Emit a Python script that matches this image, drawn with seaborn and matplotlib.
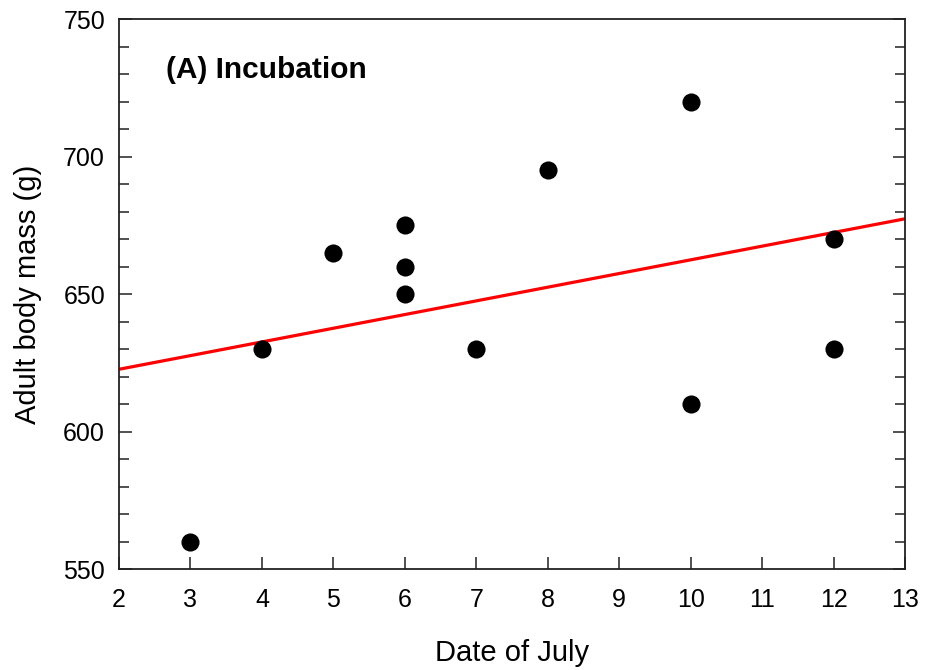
import numpy as np
import pandas as pd
import seaborn as sns
import matplotlib.pyplot as plt
from matplotlib.ticker import MultipleLocator

# Incubation-period body mass by date
date_of_july = [3, 4, 5, 6, 6, 6, 7, 8, 10, 10, 12, 12]
body_mass = [560, 630, 665, 675, 660, 650, 630, 695, 720, 610, 670, 630]

x_ticks = list(range(2, 14))
y_ticks = [550, 600, 650, 700, 750]

df = pd.DataFrame({"date": date_of_july, "mass": body_mass})

sns.set_theme(style="ticks")
plt.rcParams["font.family"] = ["Liberation Sans", "DejaVu Sans"]
plt.rcParams["text.color"] = "black"
plt.rcParams["axes.labelcolor"] = "black"

fig = plt.figure(figsize=(9.33, 6.7), dpi=100)
ax = fig.add_axes([0.1275, 0.1507, 0.8425, 0.8209])

ax.set_xlim(2, 13)
ax.set_ylim(550, 750)

# least-squares fit drawn across the full x range
sns.regplot(data=df, x="date", y="mass", ax=ax, scatter=False, ci=None,
            truncate=False, color="#ff0000", line_kws={"linewidth": 2.3})
sns.scatterplot(data=df, x="date", y="mass", ax=ax, color="black", s=170,
                edgecolor="black", linewidth=0, zorder=3)

ax.set_xlim(2, 13)
ax.set_ylim(550, 750)
ax.set_xticks(x_ticks)
ax.set_yticks(y_ticks)
ax.yaxis.set_minor_locator(MultipleLocator(10))

for side in ["left", "right", "top", "bottom"]:
    ax.spines[side].set_visible(True)
    ax.spines[side].set_linewidth(1.3)
    ax.spines[side].set_color("#222222")

ax.tick_params(axis="x", which="major", direction="in", length=9, width=1.1,
               bottom=True, top=False, labelsize=18, pad=14, colors="#222222",
               labelcolor="black")
ax.tick_params(axis="y", which="major", direction="in", length=9, width=1.1,
               left=True, right=True, labelsize=18, pad=10, colors="#222222",
               labelcolor="black")
ax.tick_params(axis="y", which="minor", direction="in", length=7, width=1.1,
               left=True, right=True, colors="#222222")

ax.set_xlabel("Date of July", fontsize=21, labelpad=19)
ax.set_ylabel("Adult body mass (g)", fontsize=21, labelpad=15)

ax.text(2.66, 731.5, "(A) Incubation", fontsize=21.5, fontweight="bold",
        ha="left", va="center")

fig.savefig("out.png", dpi=100)
